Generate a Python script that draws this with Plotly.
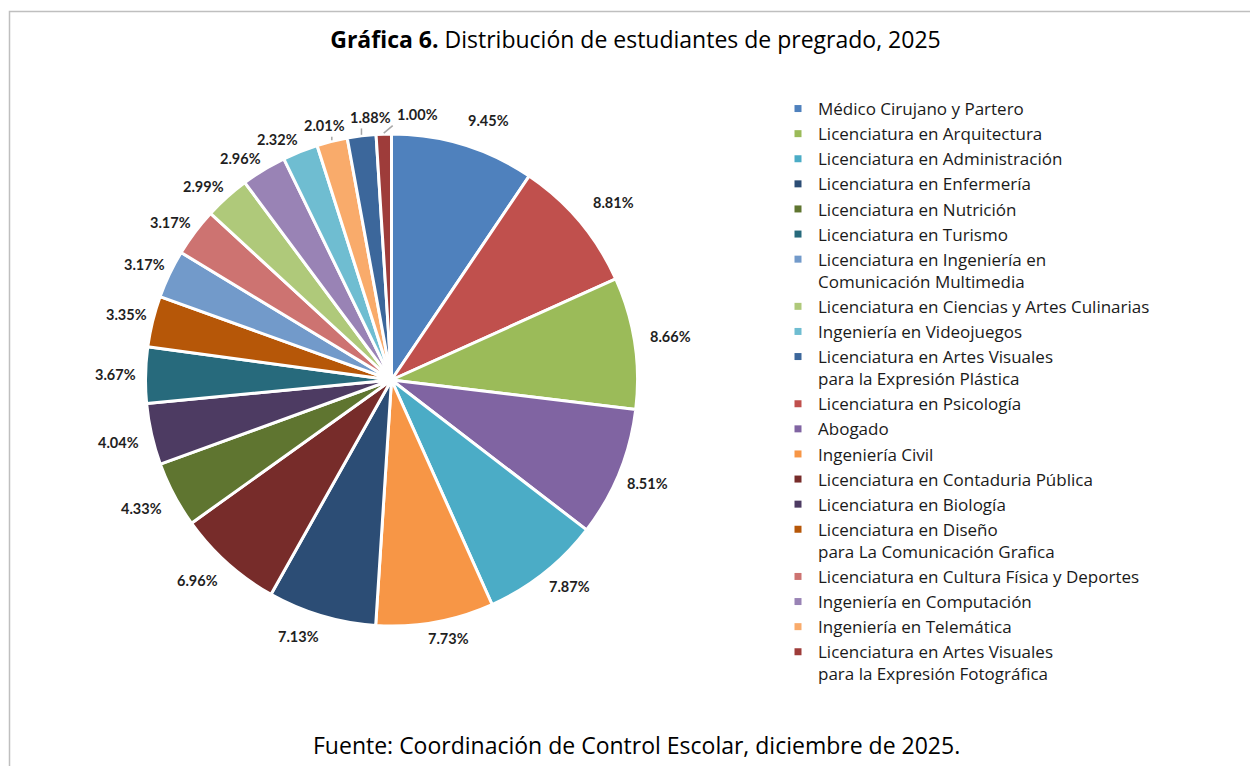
import math
import plotly.graph_objects as go

# ---------------- data ----------------
# slices in drawing order (clockwise from 12 o'clock)
programas = [
    "Médico Cirujano y Partero",
    "Licenciatura en Psicología",
    "Licenciatura en Arquitectura",
    "Abogado",
    "Licenciatura en Administración",
    "Ingeniería Civil",
    "Licenciatura en Enfermería",
    "Licenciatura en Contaduria Pública",
    "Licenciatura en Nutrición",
    "Licenciatura en Biología",
    "Licenciatura en Turismo",
    "Licenciatura en Diseño\npara La Comunicación Grafica",
    "Licenciatura en Ingeniería en\nComunicación Multimedia",
    "Licenciatura en Cultura Física y Deportes",
    "Licenciatura en Ciencias y Artes Culinarias",
    "Ingeniería en Computación",
    "Ingeniería en Videojuegos",
    "Ingeniería en Telemática",
    "Licenciatura en Artes Visuales\npara la Expresión Plástica",
    "Licenciatura en Artes Visuales\npara la Expresión Fotográfica",
]
porcentajes = [9.45, 8.81, 8.66, 8.51, 7.87, 7.73, 7.13, 6.96, 4.33, 4.04,
               3.67, 3.35, 3.17, 3.17, 2.99, 2.96, 2.32, 2.01, 1.88, 1.00]
colores = ["#4F81BD", "#C0504D", "#9BBB59", "#8064A2", "#4BACC6", "#F79646",
           "#2C4D75", "#772C2A", "#5F7530", "#4D3B62", "#276A7C", "#B65708",
           "#729ACA", "#CD7371", "#AFC97A", "#9983B5", "#6FBDD1", "#F9AB6B",
           "#3C679B", "#9E3C3A"]
# order of the legend entries
orden_leyenda = [
    "Médico Cirujano y Partero",
    "Licenciatura en Arquitectura",
    "Licenciatura en Administración",
    "Licenciatura en Enfermería",
    "Licenciatura en Nutrición",
    "Licenciatura en Turismo",
    "Licenciatura en Ingeniería en\nComunicación Multimedia",
    "Licenciatura en Ciencias y Artes Culinarias",
    "Ingeniería en Videojuegos",
    "Licenciatura en Artes Visuales\npara la Expresión Plástica",
    "Licenciatura en Psicología",
    "Abogado",
    "Ingeniería Civil",
    "Licenciatura en Contaduria Pública",
    "Licenciatura en Biología",
    "Licenciatura en Diseño\npara La Comunicación Grafica",
    "Licenciatura en Cultura Física y Deportes",
    "Ingeniería en Computación",
    "Ingeniería en Telemática",
    "Licenciatura en Artes Visuales\npara la Expresión Fotográfica",
]
titulo = "<b>Gráfica 6.</b> Distribución de estudiantes de pregrado, 2025"
fuente = "Fuente: Coordinación de Control Escolar, diciembre de 2025."

# ---------------- geometry (screen pixels; page body has an 8px margin) ----------------
OFF = 8
W, H = 1258 - OFF, 766 - OFF
CX, CY, R = 391.5, 380.0, 246.0
FONT = "Open Sans"
LABEL_FONT = "Lato"


def px(x):
    return (x - OFF) / W


def py(y):
    return 1 - (y - OFF) / H


fig = go.Figure()
fig.add_trace(go.Pie(
    labels=[p.replace("\n", " ") for p in programas],
    values=porcentajes,
    sort=False,
    direction="clockwise",
    rotation=0,
    marker=dict(colors=colores, line=dict(color="white", width=3)),
    textinfo="none",
    showlegend=False,
    hoverinfo="label+value",
    domain=dict(x=[px(CX - R), px(CX + R)], y=[py(CY + R), py(CY - R)]),
))

# ---------------- data labels (computed from the values) ----------------
total = sum(porcentajes)
LW, LH = 41.0, 14.0
PADX, PADY = 5.0, 3.0
# gap between pie edge and label corner, per quadrant
G_UR, G_LR, G_LL, G_UL = 18.0, 8.0, 14.0, 5.0


def clip1(t):
    return max(-1.0, min(1.0, t))


def label_center(theta_deg):
    t = math.radians(theta_deg)
    ux, uy = math.sin(t), -math.cos(t)
    sx, sy = clip1(ux / 0.3), clip1(uy / 0.3)
    wr, wd = (1 + sx) / 2, (1 + sy) / 2
    g = ((1 - wr) * (1 - wd) * G_UL + wr * (1 - wd) * G_UR
         + wr * wd * G_LR + (1 - wr) * wd * G_LL)
    d = R + g
    return CX + d * ux + sx * LW / 2, CY + d * uy + sy * LH / 2


def collides(p, placed):
    return any(abs(p[0] - q[0]) < LW + PADX and abs(p[1] - q[1]) < LH + PADY
               for q in placed)


mids = []
cum = 0.0
for v in porcentajes:
    mids.append((cum + v / 2) / total * 360.0)
    cum += v

# greedy placement: larger slices first, smaller labels slide along the rim
pos = [None] * len(porcentajes)
placed = []
for i in sorted(range(len(porcentajes)), key=lambda k: -porcentajes[k]):
    base = label_center(mids[i])
    best = base
    if collides(base, placed):
        best, best_d = None, 1e9
        for k in range(1, 200):
            for s in (1, -1):
                c = label_center(mids[i] + s * 0.1 * k)
                if not collides(c, placed):
                    dd = math.hypot(c[0] - base[0], c[1] - base[1])
                    if dd < best_d:
                        best, best_d = c, dd
            if best is not None:
                break
    pos[i] = best
    placed.append(best)

annotations = []
shapes = []
for v, m, (lx, ly) in zip(porcentajes, mids, pos):
    annotations.append(dict(
        x=px(lx), y=py(ly), xref="paper", yref="paper",
        text=f"<b>{v:.2f}%</b>", showarrow=False,
        xanchor="center", yanchor="middle",
        font=dict(family=LABEL_FONT, size=14.5, color="#1F1F1F"),
    ))
    arc = v / total * 2 * math.pi * R
    if arc < 0.8 * LW:
        t = math.radians(m)
        ex, ey = CX + (R + 1) * math.sin(t), CY - (R + 1) * math.cos(t)
        bx0, bx1 = lx - LW / 2 - 4, lx + LW / 2 + 4
        by0, by1 = ly - LH / 2 - 4, ly + LH / 2 + 4
        nx = min(max(ex, bx0), bx1)
        ny = min(max(ey, by0), by1)
        shapes.append(dict(type="line", xref="paper", yref="paper",
                           x0=px(ex), y0=py(ey), x1=px(nx), y1=py(ny),
                           line=dict(color="#A6A6A6", width=1.5)))

# outer frame
shapes.append(dict(type="rect", xref="paper", yref="paper",
                   x0=px(9.5), y0=py(820), x1=px(1320), y1=py(11.5),
                   line=dict(color="#BFBFBF", width=1.5),
                   fillcolor="rgba(0,0,0,0)", layer="below"))

annotations.append(dict(
    x=px(636), y=py(745), xref="paper", yref="paper", text=fuente,
    showarrow=False, xanchor="center", yanchor="middle",
    font=dict(family=FONT, size=23, color="#000000"),
))

# ---------------- legend ----------------
for name in orden_leyenda:
    idx = programas.index(name)
    fig.add_trace(go.Scatter(
        x=[None], y=[None], mode="markers",
        marker=dict(symbol="square", size=7, color=colores[idx]),
        name=name.replace("\n", "<br>"), showlegend=True, hoverinfo="skip",
    ))

fig.update_layout(
    width=W, height=H,
    margin=dict(l=0, r=0, t=0, b=0),
    paper_bgcolor="white", plot_bgcolor="white",
    xaxis=dict(visible=False), yaxis=dict(visible=False),
    title=dict(text=titulo, x=px(635.5), xanchor="center",
               y=py(40), yanchor="middle", yref="container",
               font=dict(family=FONT, size=23, color="#000000")),
    legend=dict(x=px(778), y=py(91), xanchor="left", yanchor="top",
                font=dict(family=FONT, size=17, color="#1A1A1A"),
                valign="top", tracegroupgap=0, itemclick=False,
                itemdoubleclick=False, bgcolor="rgba(0,0,0,0)",
                traceorder="normal"),
    annotations=annotations,
    shapes=shapes,
    showlegend=True,
)

fig.write_html("out.html")
